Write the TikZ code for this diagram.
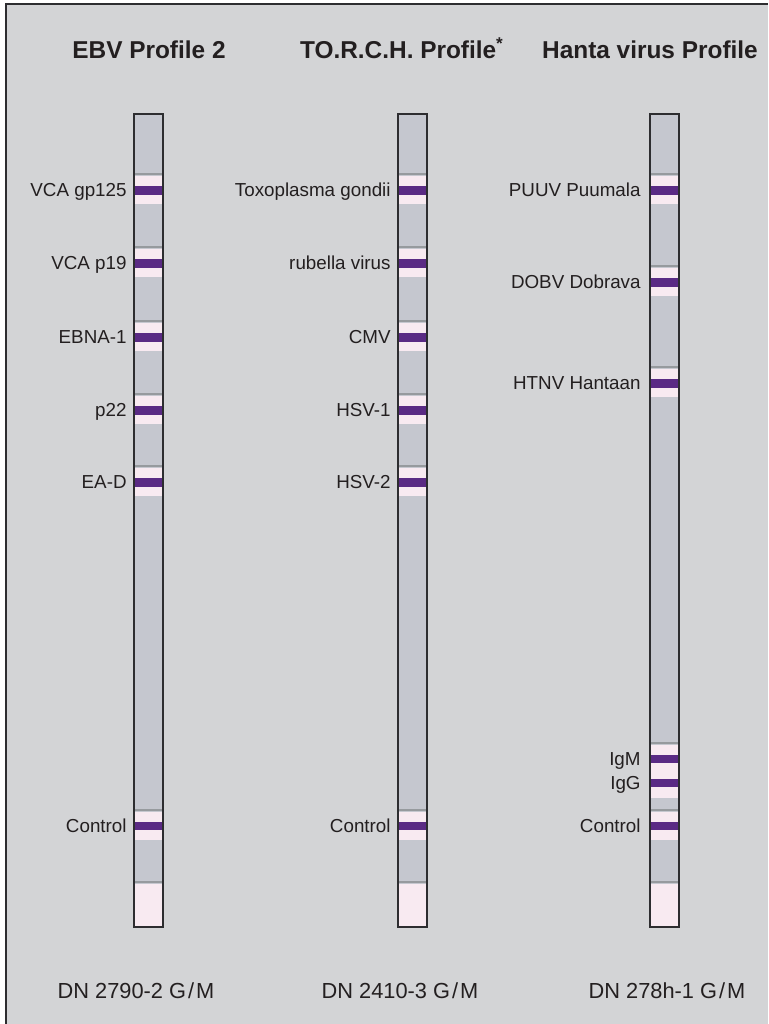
\documentclass[tikz,border=0pt]{standalone}
\usepackage{fontspec}
\setmainfont{Liberation Sans}
\usepackage{xcolor}
\usetikzlibrary{positioning}
\definecolor{panelgray}{RGB}{211,212,214}
\definecolor{stripgray}{RGB}{197,199,207}
\definecolor{stripline}{RGB}{150,154,158}
\definecolor{bandpink}{RGB}{248,234,241}
\definecolor{bandpurple}{RGB}{90,42,132}
\definecolor{edgegray}{RGB}{45,45,48}
\definecolor{textgray}{RGB}{35,31,32}

\begin{document}
\begin{tikzpicture}[
    x=0.5pt, y=-0.5pt,
    stripbox/.style={draw=edgegray, line width=0.8pt},
    zone/.style={fill=bandpink},
    band/.style={fill=bandpurple},
    edgeline/.style={stripline, line width=1pt},
    bandlabel/.style={anchor=base east, inner sep=0pt, text=textgray, font=\fontsize{9.4}{11}\selectfont},
    title/.style={anchor=base, inner sep=0pt, text=textgray, font=\bfseries\fontsize{12.2}{14}\selectfont},
    code/.style={anchor=base, inner sep=0pt, text=textgray, font=\fontsize{10.9}{13}\selectfont}
  ]
    \useasboundingbox (0,0) rectangle (768,1024);
    \fill[panelgray] (6,4) rectangle (768,1024);
    \draw[edgegray, line width=0.8pt] (6,1024) -- (6,4) -- (768,4);

    % titles
    \node[title] (ebvtitle) at (149,58) {EBV Profile 2};
    \node[title] (torchtitle) at (402,58) {TO.R.C.H. Profile\textsuperscript{*}};
    \node[title] (hantatitle) at (650,58) {Hanta virus Profile};

    % strip bodies
    \foreach \sx in {134,398,650} {
      \fill[stripgray] (\sx,114) rectangle (\sx+29,927);
      % control zone and bottom pad
      \draw[edgeline] (\sx,810) -- (\sx+29,810);
      \fill[zone] (\sx,812) rectangle (\sx+29,840);
      \draw[edgeline] (\sx,882) -- (\sx+29,882);
      \fill[zone] (\sx,884) rectangle (\sx+29,927);
      \fill[band] (\sx,822) rectangle (\sx+29,830);
    }

    % EBV and TORCH zones
    \foreach \sx in {134,398}
      \foreach \c in {190,263,337,410,482} {
        \draw[edgeline] (\sx,\c-16) -- (\sx+29,\c-16);
        \fill[zone] (\sx,\c-14) rectangle (\sx+29,\c+14);
        \fill[band] (\sx,\c-4.5) rectangle (\sx+29,\c+4.5);
      }

    % Hanta zones
    \foreach \c in {190,282,383} {
      \draw[edgeline] (650,\c-16) -- (679,\c-16);
      \fill[zone] (650,\c-14) rectangle (679,\c+14);
      \fill[band] (650,\c-4.5) rectangle (679,\c+4.5);
    }
    \draw[edgeline] (650,743) -- (679,743);
    \fill[zone] (650,745) rectangle (679,798);
    \fill[band] (650,755) rectangle (679,763);
    \fill[band] (650,779) rectangle (679,787);

    \foreach \sx in {134,398,650}
      \draw[stripbox] (\sx,114) rectangle (\sx+29,927);

    % band labels
    \foreach \c/\lab [count=\i] in {190/VCA gp125,263/VCA p19,337/EBNA-1,410/p22,482/EA-D,826/Control}
      \node[bandlabel] (ebv-\i) at (127,\c+6) {\lab};
    \foreach \c/\lab [count=\i] in {190/Toxoplasma gondii,263/rubella virus,337/CMV,410/HSV-1,482/HSV-2,826/Control}
      \node[bandlabel] (torch-\i) at (391,\c+6) {\lab};
    \foreach \c/\lab [count=\i] in {190/PUUV Puumala,282/DOBV Dobrava,383/HTNV Hantaan,759/IgM,783/IgG,826/Control}
      \node[bandlabel] (hanta-\i) at (641,\c+6) {\lab};

    % order codes
    \node[code] (ebvcode) at (136,998) {DN 2790-2 G{\kern1pt}/{\kern1pt}M};
    \node[code] (torchcode) at (400,998) {DN 2410-3 G{\kern1pt}/{\kern1pt}M};
    \node[code] (hantacode) at (667,998) {DN 278h-1 G{\kern1pt}/{\kern1pt}M};
  \end{tikzpicture}
\end{document}
